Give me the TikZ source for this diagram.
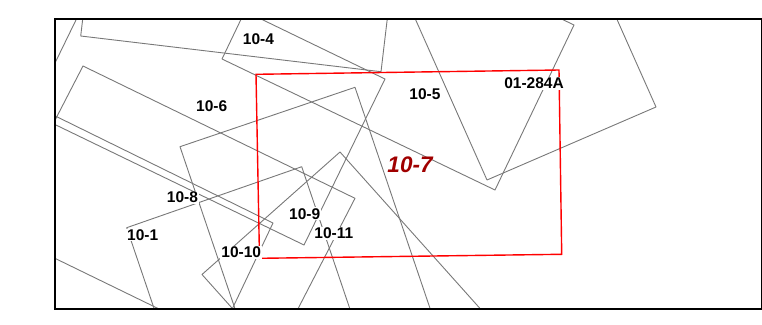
\documentclass[tikz,border=0pt]{standalone}
\usepackage{fontspec}
\setmainfont{Liberation Sans}
\usepackage{tikz}
\definecolor{tilegray}{RGB}{120,120,120}
\definecolor{selred}{RGB}{255,0,0}
\definecolor{darkred}{RGB}{160,0,0}

\begin{document}
\begin{tikzpicture}[x=1pt,y=-1pt,
    footprint/.style={tilegray, line width=0.9pt, line join=round},
    photo/.style={font=\fontsize{15.5}{16}\selectfont\bfseries, fill=white, inner sep=1pt}]
    \useasboundingbox (0,0) rectangle (762,324);

    % --- Photo footprints, clipped to the map frame ---
    \begin{scope}
        \clip (55,19) rectangle (761,309);
        \draw[footprint] (102.5,-147.7) -- (80.7,36) -- (381,71.7) -- (402.8,-112) -- cycle;
        \draw[footprint] (301,-106) -- (222,59) -- (495,190) -- (574,25) -- cycle;
        \draw[footprint] (365,-94) -- (487,180) -- (656,107) -- (534,-167) -- cycle;
        \draw[footprint] (111.7,-53.2) -- (385,79) -- (304,245) -- (30.7,112.8) -- cycle;
        \draw[footprint] (83,66) -- (355,198.3) -- (270,363) -- (-2,230.6) -- cycle;
        \draw[footprint] (2,89.8) -- (273,223) -- (193.7,390.2) -- (-77.3,257) -- cycle;
        \draw[footprint] (180,146.7) -- (355,87.3) -- (451.4,371.3) -- (276.4,430.7) -- cycle;
        \draw[footprint] (126.7,227.7) -- (301.7,166.7) -- (398,450.8) -- (223,511.8) -- cycle;
        \draw[footprint] (202,274.5) -- (340,152) -- (540,375.5) -- (402,498) -- cycle;
    \end{scope}

    % --- Selected photo ---
    \draw[selred, line width=1.4pt] (256,74.3) -- (559,70) -- (561.7,254.3) -- (259.5,258.3) -- cycle;

    % --- Labels ---
    \node[photo] (p104) at (258.5,39.5) {10-4};
    \node[photo] (p106) at (211.7,106) {10-6};
    \node[photo] (p105) at (425,94) {10-5};
    \node[photo] (p284) at (534,83.3) {01-284A};
    \node[photo] (p108) at (182.5,197.5) {10-8};
    \node[photo] (p101) at (142.7,235) {10-1};
    \node[photo] (p109) at (304.7,213.8) {10-9};
    \node[photo] (p1011) at (333.8,233.5) {10-11};
    \node[photo] (p1010) at (241.3,252.5) {10-10};
    \node[font=\fontsize{22.5}{24}\selectfont\bfseries\itshape, text=darkred] (p107) at (410,164.5) {10-7};

    % --- Map frame ---
    \draw[line width=2.6pt] (55,19) rectangle (762,309);
\end{tikzpicture}
\end{document}
